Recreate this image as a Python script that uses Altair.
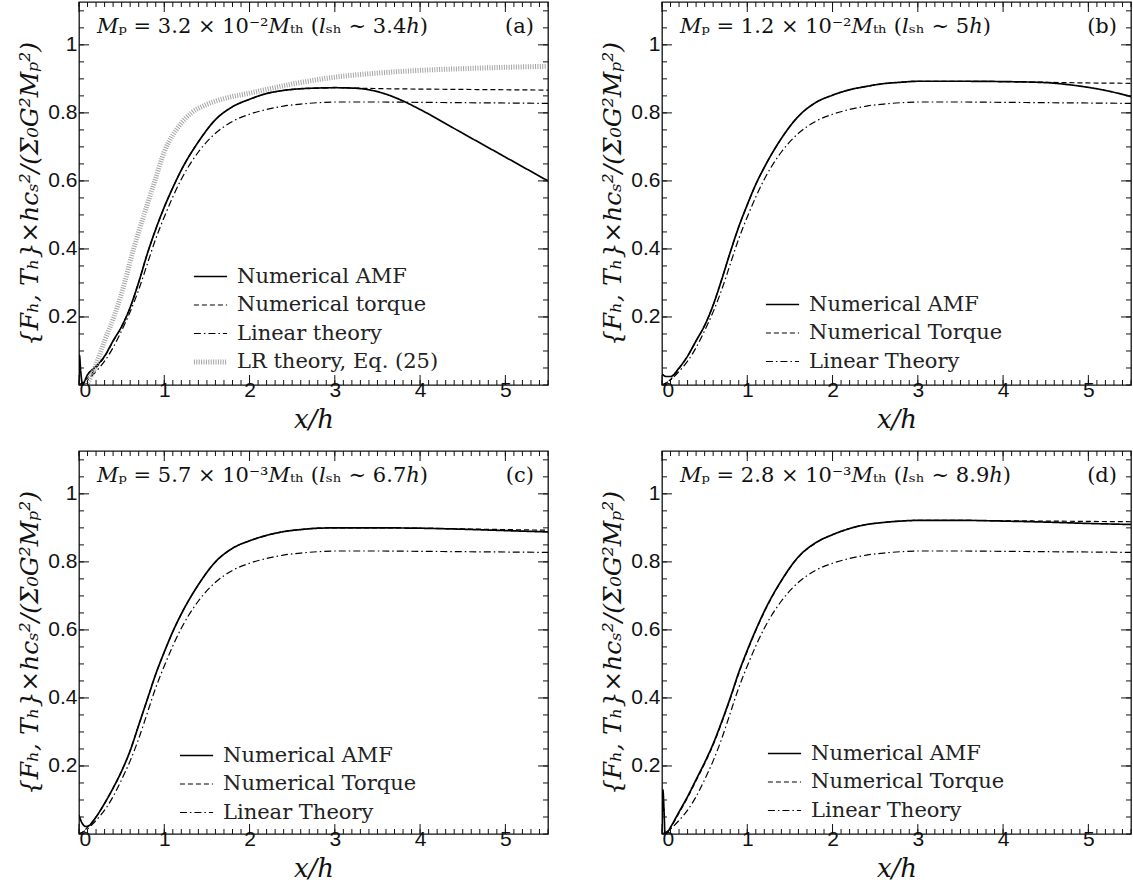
import altair as alt
import pandas as pd

# ---------------- data ----------------
# Panel (a)
a_amf_x = [0, 0.005, 0.02, 0.04, 0.1, 0.2, 0.3, 0.4, 0.5, 0.6, 0.7, 0.8, 0.9, 1.0, 1.1, 1.2, 1.4, 1.6, 1.8, 2.0, 2.2, 2.4, 2.6, 2.8, 3.0, 3.2, 3.4, 3.6, 3.8, 4.0, 4.5, 5.0, 5.5]
a_amf_y = [0.0, 0.087, 0.04, 0.003, 0.03, 0.055, 0.085, 0.13, 0.172, 0.228, 0.302, 0.385, 0.458, 0.523, 0.58, 0.632, 0.715, 0.78, 0.818, 0.84, 0.857, 0.866, 0.871, 0.873, 0.874, 0.873, 0.868, 0.855, 0.835, 0.81, 0.74, 0.67, 0.60]
a_trq_x = [0, 0.1, 0.2, 0.3, 0.4, 0.5, 0.6, 0.7, 0.8, 0.9, 1.0, 1.1, 1.2, 1.4, 1.6, 1.8, 2.0, 2.2, 2.4, 2.6, 2.8, 3.0, 3.2, 3.4, 3.6, 4.0, 4.5, 5.0, 5.5]
a_trq_y = [0.0, 0.02, 0.05, 0.083, 0.128, 0.172, 0.228, 0.302, 0.385, 0.458, 0.523, 0.58, 0.632, 0.715, 0.78, 0.818, 0.84, 0.857, 0.866, 0.871, 0.873, 0.874, 0.873, 0.872, 0.871, 0.870, 0.869, 0.868, 0.867]
a_lr_x = [0.09, 0.15, 0.2, 0.3, 0.41, 0.5, 0.64, 0.7, 0.8, 0.89, 1.0, 1.1, 1.2, 1.32, 1.5, 1.7, 2.0, 2.5, 3.0, 3.5, 4.0, 4.5, 5.0, 5.5]
a_lr_y = [0.0, 0.03, 0.06, 0.13, 0.2, 0.27, 0.4, 0.45, 0.53, 0.6, 0.686, 0.735, 0.77, 0.8, 0.825, 0.842, 0.858, 0.885, 0.905, 0.917, 0.925, 0.93, 0.934, 0.937]

# Linear theory (same normalised curve in every panel)
lin_x = [0, 0.1, 0.2, 0.3, 0.4, 0.5, 0.6, 0.7, 0.8, 0.9, 1.0, 1.2, 1.4, 1.6, 1.8, 2.0, 2.2, 2.4, 2.6, 2.8, 3.0, 3.5, 4.0, 4.5, 5.0, 5.5]
lin_y = [0.0, 0.015, 0.04, 0.07, 0.11, 0.16, 0.215, 0.28, 0.355, 0.43, 0.494, 0.605, 0.685, 0.74, 0.775, 0.796, 0.81, 0.82, 0.826, 0.830, 0.832, 0.832, 0.831, 0.830, 0.829, 0.828]

# Panel (b)
b_amf_x = [0, 0.05, 0.1, 0.2, 0.3, 0.4, 0.5, 0.6, 0.7, 0.8, 0.9, 1.0, 1.1, 1.2, 1.4, 1.6, 1.8, 2.0, 2.2, 2.4, 2.6, 2.8, 3.0, 3.5, 4.0, 4.5, 4.8, 5.0, 5.2, 5.5]
b_amf_y = [0.032, 0.025, 0.025, 0.05, 0.085, 0.13, 0.175, 0.235, 0.31, 0.39, 0.465, 0.53, 0.59, 0.64, 0.725, 0.79, 0.83, 0.852, 0.868, 0.878, 0.886, 0.890, 0.893, 0.893, 0.892, 0.889, 0.882, 0.875, 0.866, 0.848]
b_trq_x = [0, 0.05, 0.1, 0.2, 0.3, 0.4, 0.5, 0.6, 0.7, 0.8, 0.9, 1.0, 1.1, 1.2, 1.4, 1.6, 1.8, 2.0, 2.2, 2.4, 2.6, 2.8, 3.0, 3.5, 4.0, 4.5, 5.0, 5.5]
b_trq_y = [0.0, 0.006, 0.016, 0.048, 0.085, 0.13, 0.175, 0.235, 0.31, 0.39, 0.465, 0.53, 0.59, 0.64, 0.725, 0.79, 0.83, 0.852, 0.868, 0.878, 0.886, 0.890, 0.893, 0.893, 0.892, 0.890, 0.888, 0.887]

# Panel (c)
c_amf_x = [0, 0.03, 0.08, 0.12, 0.2, 0.3, 0.4, 0.5, 0.6, 0.7, 0.8, 0.9, 1.0, 1.1, 1.2, 1.4, 1.6, 1.8, 2.0, 2.2, 2.4, 2.6, 2.8, 3.0, 3.5, 4.0, 4.5, 5.0, 5.5]
c_amf_y = [0.055, 0.035, 0.022, 0.025, 0.05, 0.09, 0.135, 0.185, 0.245, 0.32, 0.395, 0.47, 0.535, 0.595, 0.647, 0.733, 0.80, 0.84, 0.862, 0.878, 0.889, 0.895, 0.899, 0.900, 0.900, 0.899, 0.896, 0.892, 0.888]
c_trq_x = [0, 0.05, 0.1, 0.2, 0.3, 0.4, 0.5, 0.6, 0.7, 0.8, 0.9, 1.0, 1.1, 1.2, 1.4, 1.6, 1.8, 2.0, 2.2, 2.4, 2.6, 2.8, 3.0, 3.5, 4.0, 4.5, 5.0, 5.5]
c_trq_y = [0.0, 0.007, 0.02, 0.05, 0.09, 0.135, 0.185, 0.245, 0.32, 0.395, 0.47, 0.535, 0.595, 0.647, 0.733, 0.80, 0.84, 0.862, 0.878, 0.889, 0.895, 0.899, 0.900, 0.900, 0.899, 0.897, 0.895, 0.893]

# Panel (d)
d_amf_x = [0, 0.01, 0.025, 0.035, 0.06, 0.1, 0.2, 0.3, 0.4, 0.5, 0.6, 0.7, 0.8, 0.9, 1.0, 1.1, 1.2, 1.4, 1.6, 1.8, 2.0, 2.2, 2.4, 2.6, 2.8, 3.0, 3.5, 4.0, 4.5, 5.0, 5.5]
d_amf_y = [0.0, 0.13, 0.06, 0.0, 0.004, 0.02, 0.065, 0.11, 0.16, 0.21, 0.265, 0.33, 0.40, 0.475, 0.54, 0.60, 0.655, 0.745, 0.815, 0.856, 0.88, 0.898, 0.91, 0.916, 0.92, 0.922, 0.922, 0.920, 0.917, 0.913, 0.910]
d_trq_x = [0, 0.06, 0.1, 0.2, 0.3, 0.4, 0.5, 0.6, 0.7, 0.8, 0.9, 1.0, 1.1, 1.2, 1.4, 1.6, 1.8, 2.0, 2.2, 2.4, 2.6, 2.8, 3.0, 3.5, 4.0, 4.5, 5.0, 5.5]
d_trq_y = [0.0, 0.004, 0.018, 0.062, 0.107, 0.157, 0.207, 0.262, 0.327, 0.397, 0.472, 0.537, 0.598, 0.653, 0.744, 0.814, 0.855, 0.88, 0.898, 0.91, 0.916, 0.92, 0.922, 0.922, 0.921, 0.920, 0.919, 0.918]

# axis tick values
x_major = [0, 1, 2, 3, 4, 5]
x_minor = [round(0.1 * i, 1) for i in range(56)]
y_major = [0.2, 0.4, 0.6, 0.8, 1.0]
y_minor = [round(0.05 * i, 2) for i in range(23)]

labels_a = ["Numerical AMF", "Numerical torque", "Linear theory", "LR theory, Eq. (25)"]
labels_b = ["Numerical AMF", "Numerical Torque", "Linear Theory"]

notes = {
    "a": "𝑀ₚ = 3.2 × 10⁻²𝑀ₜₕ (𝑙ₛₕ ∼ 3.4ℎ)",
    "b": "𝑀ₚ = 1.2 × 10⁻²𝑀ₜₕ (𝑙ₛₕ ∼ 5ℎ)",
    "c": "𝑀ₚ = 5.7 × 10⁻³𝑀ₜₕ (𝑙ₛₕ ∼ 6.7ℎ)",
    "d": "𝑀ₚ = 2.8 × 10⁻³𝑀ₜₕ (𝑙ₛₕ ∼ 8.9ℎ)",
}

# ---------------- styling ----------------
W, H = 469, 383
XDOM = [0, 5.5]
YDOM = [0, 1.126]
SERIF = "DejaVu Serif"
SANS = "Liberation Sans"
LR = labels_a[3]

dash_range = [[1, 0], [5, 3], [7, 3, 1.5, 3], [1, 1.4]]
WIDTH_EXPR = ("datum.series == 'Numerical AMF' ? 1.7 : "
              "(datum.series == '%s' ? 5 : 1.2)" % LR)
COLOR_EXPR = "datum.series == '%s' ? '#a3a3a3' : '#000000'" % LR
SYM_WIDTH = alt.ExprRef(expr=WIDTH_EXPR.replace("datum.series", "datum.value"))
SYM_COLOR = alt.ExprRef(expr=COLOR_EXPR.replace("datum.series", "datum.value"))

ytitle = "{Fₕ, Tₕ}×hcₛ²/(Σ₀G²Mₚ²)"
xtitle = "x/h"

XS = alt.Scale(domain=XDOM, nice=False, zero=False)
YS = alt.Scale(domain=YDOM, nice=False, zero=False)
XAX = alt.Axis(values=x_major, format="d", ticks=False, domain=False, grid=False,
               labelFont=SANS, labelFontSize=21, labelPadding=5, labelBaseline="middle",
               labelColor="#111",
               title=xtitle, titleFont=SERIF, titleFontSize=26, titleFontWeight="normal",
               titleFontStyle="italic", titlePadding=6, titleColor="#111")
YAX = alt.Axis(values=y_major, format="~g", ticks=False, domain=False, grid=False,
               labelFont=SANS, labelFontSize=21, labelPadding=2, labelColor="#111",
               title=ytitle, titleFont=SERIF, titleFontSize=25, titleFontWeight="normal",
               titleFontStyle="italic", titlePadding=5, titleColor="#111")


def frame(xs, ys, label):
    return pd.DataFrame({"x": xs, "y": ys, "series": label})


def panel(series, labels, note, tag, lx, ly):
    df = pd.concat([frame(xs, ys, lab) for xs, ys, lab in series], ignore_index=True)
    n = len(labels)
    leg = alt.Legend(
        orient="none", legendX=lx, legendY=ly, title=None, padding=0,
        labelFont=SERIF, labelFontSize=21, labelColor="#222", labelOffset=16,
        symbolType="stroke", symbolSize=1100, rowPadding=6.5, labelLimit=400,
        symbolStrokeWidth=SYM_WIDTH, symbolStrokeColor=SYM_COLOR,
    )
    lines = alt.Chart(df).transform_calculate(
        sw=WIDTH_EXPR, col=COLOR_EXPR
    ).mark_line(interpolate="monotone", clip=True).encode(
        x=alt.X("x:Q", scale=XS, axis=XAX),
        y=alt.Y("y:Q", scale=YS, axis=YAX),
        strokeDash=alt.StrokeDash("series:N", sort=labels,
                                  scale=alt.Scale(domain=labels, range=dash_range[:n]), legend=leg),
        color=alt.Color("col:N", scale=None),
        strokeWidth=alt.StrokeWidth("sw:Q", scale=None),
        order=alt.Order("x:Q"),
    )
    xt = pd.DataFrame({"x": x_minor})
    xT = pd.DataFrame({"x": x_major})
    yt = pd.DataFrame({"y": y_minor})
    yT = pd.DataFrame({"y": y_major})

    def rx(d, y0, y1):
        return alt.Chart(d).mark_rule(color="#111", strokeWidth=1).encode(
            x=alt.X("x:Q", scale=XS, axis=XAX), y=alt.value(y0), y2=alt.value(y1))

    def ry(d, x0, x1):
        return alt.Chart(d).mark_rule(color="#111", strokeWidth=1).encode(
            y=alt.Y("y:Q", scale=YS, axis=YAX), x=alt.value(x0), x2=alt.value(x1))

    ticks = [
        rx(xt, H, H - 5), rx(xT, H, H - 10), rx(xt, 0, 5), rx(xT, 0, 10),
        ry(yt, 0, 5), ry(yT, 0, 10), ry(yt, W, W - 5), ry(yT, W, W - 10),
    ]
    txt = alt.Chart(pd.DataFrame({"t": [note]})).mark_text(
        align="left", baseline="middle", font=SERIF, fontSize=21, color="#111"
    ).encode(text="t:N", x=alt.value(18), y=alt.value(25))
    tg = alt.Chart(pd.DataFrame({"t": [tag]})).mark_text(
        align="right", baseline="middle", font=SERIF, fontSize=21, color="#111"
    ).encode(text="t:N", x=alt.value(W - 14), y=alt.value(25))
    return alt.layer(lines, *ticks, txt, tg).resolve_scale(
        strokeDash="independent"
    ).properties(width=W, height=H)


pa = panel([(a_amf_x, a_amf_y, labels_a[0]), (a_trq_x, a_trq_y, labels_a[1]),
            (lin_x, lin_y, labels_a[2]), (a_lr_x, a_lr_y, labels_a[3])],
           labels_a, notes["a"], "(a)", 121, 264)
pb = panel([(b_amf_x, b_amf_y, labels_b[0]), (b_trq_x, b_trq_y, labels_b[1]),
            (lin_x, lin_y, labels_b[2])],
           labels_b, notes["b"], "(b)", 110, 292)
pc = panel([(c_amf_x, c_amf_y, labels_b[0]), (c_trq_x, c_trq_y, labels_b[1]),
            (lin_x, lin_y, labels_b[2])],
           labels_b, notes["c"], "(c)", 107, 294)
pd_ = panel([(d_amf_x, d_amf_y, labels_b[0]), (d_trq_x, d_trq_y, labels_b[1]),
             (lin_x, lin_y, labels_b[2])],
            labels_b, notes["d"], "(d)", 112, 292)

chart = alt.concat(pa, pb, pc, pd_, columns=2, spacing={"row": 66, "column": 114},
                   bounds="flush").resolve_scale(
    strokeDash="independent"
).properties(padding={"left": 17, "top": 0, "right": 0, "bottom": 0}, background="white"
).configure_view(stroke="#111", strokeWidth=1.3
).configure_legend(labelFont=SERIF, labelFontSize=21)

chart.save("out.html", embed_options={"renderer": "svg", "actions": False})
